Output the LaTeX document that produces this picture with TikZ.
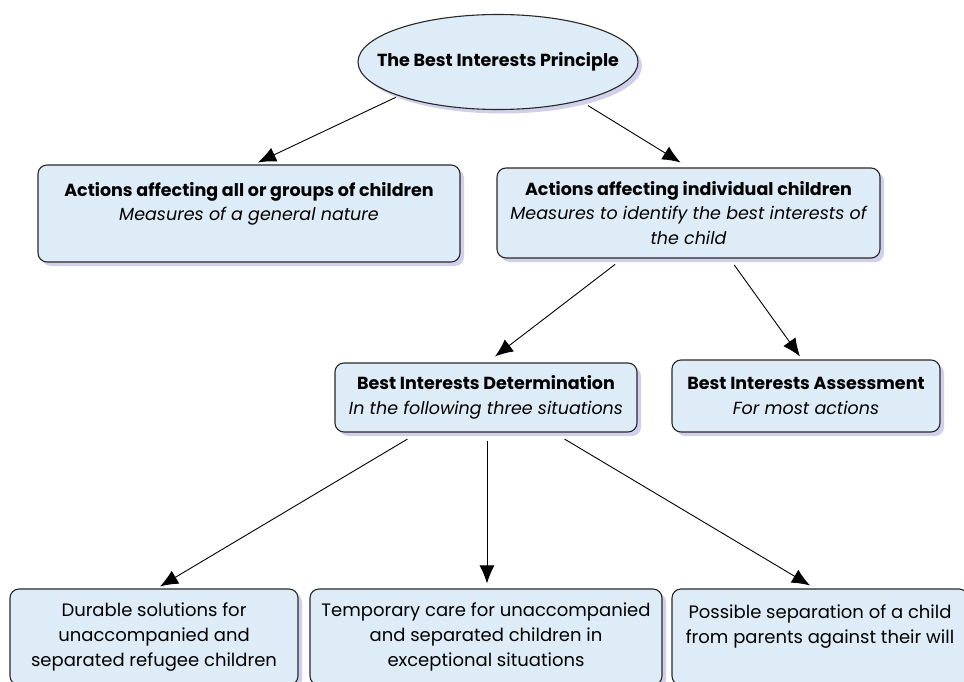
\documentclass[tikz,border=0pt]{standalone}
\usepackage{fontspec}
\setmainfont{Poppins}
\usepackage{tikz}
\usetikzlibrary{calc,shapes,arrows.meta,shadows}

\definecolor{boxfill}{RGB}{222,236,248}
\definecolor{boxshade}{RGB}{196,196,232}
\definecolor{boxline}{RGB}{40,40,40}

\tikzset{
    bibox/.style={draw=boxline, line width=1.1pt, fill=boxfill, rounded corners=9pt,
        align=center, inner sep=2pt,
        drop shadow={fill=boxshade, shadow xshift=4pt, shadow yshift=-4pt, opacity=.8},
        font=\fontsize{17.5}{24.5}\selectfont},
    bioval/.style={bibox, ellipse, rounded corners=0pt, inner sep=0pt},
    lowbox/.style={bibox, font=\fontsize{18}{25}\selectfont},
    biarrow/.style={line width=0.9pt, -{Latex[length=18pt,width=15pt]}, shorten <=3pt}
}

\begin{document}
\begin{tikzpicture}[x=1pt,y=-1pt]
    \useasboundingbox (0,0) rectangle (964,682);
    % top principle
    \node[bioval, minimum width=280, minimum height=95] (bip) at (498,62)
        {\makebox[0pt]{\bfseries The Best Interests Principle}};
    % second row
    \node[bibox, minimum width=422, minimum height=97] (allkids) at (249,213.5)
        {{\bfseries Actions affecting all or groups of children}\\
        {\itshape Measures of a general nature}\\ \mbox{}};
    \node[bibox, minimum width=383, minimum height=90] (onekid) at (688.5,213)
        {{\bfseries Actions affecting individual children}\\
        {\itshape Measures to identify the best interests of}\\ {\itshape the child}};
    % third row
    \node[bibox, minimum width=302, minimum height=69] (bid) at (486,397.5)
        {{\bfseries Best Interests Determination}\\
        {\itshape In the following three situations}};
    \node[bibox, minimum width=268, minimum height=72] (bia) at (806,396)
        {{\bfseries Best Interests Assessment}\\
        {\itshape For most actions}};
    % three situations
    \node[lowbox, minimum width=288, minimum height=96] (durable) at (154,637)
        {Durable solutions for\\ unaccompanied and\\ separated refugee children};
    \node[lowbox, minimum width=352, minimum height=96] (tempcare) at (486,637)
        {Temporary care for unaccompanied\\ and separated children in\\ exceptional situations};
    \node[lowbox, minimum width=296, minimum height=96] (separate) at (820,637)
        {Possible separation of a child\\ from parents against their will\\ \mbox{}};

    \draw[biarrow] (bip.south west) -- ($(allkids.north)+(9,-2)$);
    \draw[biarrow] ($(bip.south east)+(-12,8)$) -- ($(onekid.north)+(-8,-5)$);
    \draw[biarrow] ($(onekid.south)+(-71,4)$) -- ($(bid.north)+(9,-6)$);
    \draw[biarrow] ($(onekid.south)+(44,4)$) -- ($(bia.north)+(-6,-3)$);
    \draw[biarrow] ($(bid.south)+(-76,5)$) -- ($(durable.north)+(6,-2)$);
    \draw[biarrow] ($(bid.south)+(1,5)$) -- ($(tempcare.north)+(1,-5)$);
    \draw[biarrow] ($(bid.south)+(76,5)$) -- ($(separate.north)+(-10,-3)$);
\end{tikzpicture}
\end{document}
